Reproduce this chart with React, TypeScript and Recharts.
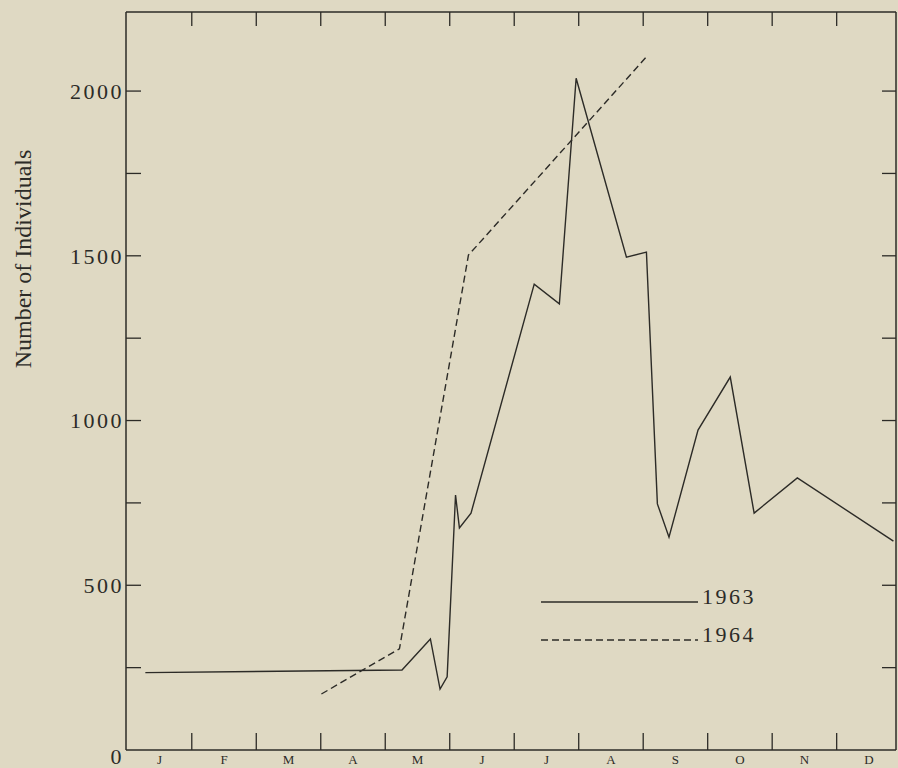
import React from 'react';
import { LineChart, Line, XAxis, YAxis, Legend } from 'recharts';

const INK = '#2c2b27';
const PAPER = '#dfd9c3';
const SERIF = '"Liberation Serif", "DejaVu Serif", serif';

const MONTHS = ['J', 'F', 'M', 'A', 'M', 'J', 'J', 'A', 'S', 'O', 'N', 'D'];
const MONTH_EDGES = [1, 2, 3, 4, 5, 6, 7, 8, 9, 10, 11];

// x is months since 1 January
const X_1963 = [0.28, 4.26, 4.7, 4.85, 4.96, 5.09, 5.15, 5.33, 6.31, 6.7, 6.96, 7.74, 8.05, 8.22, 8.4, 8.85, 9.35, 9.72, 10.39, 11.88];
const N_1963 = [235, 243, 337, 185, 222, 774, 674, 719, 1414, 1354, 2039, 1496, 1511, 747, 646, 971, 1132, 719, 826, 634];
const X_1964 = [3.01, 4.22, 5.29, 8.06];
const N_1964 = [170, 307, 1502, 2106];

const Y_LABELS = [0, 500, 1000, 1500, 2000];
const Y_TICKS = [0, 250, 500, 750, 1000, 1250, 1500, 1750, 2000];

const data1963 = X_1963.map((x, i) => ({ x, n: N_1963[i] }));
const data1964 = X_1964.map((x, i) => ({ x, n: N_1964[i] }));
const monthCentres = MONTHS.map((_, i) => i + 0.5);

const DASH = '7 4';

const BottomTick = (props: any) => {
  const { x, y, payload } = props;
  const v = payload.value;
  if (Number.isInteger(v)) {
    return <line x1={x} x2={x} y1={y} y2={y - 17} stroke={INK} strokeWidth={1.3} />;
  }
  return (
    <text x={x} y={y + 14} textAnchor="middle" fontSize={13} fill={INK} fontFamily={SERIF}>
      {MONTHS[Math.floor(v)]}
    </text>
  );
};

const TopTick = (props: any) => {
  const { x, y } = props;
  return <line x1={x} x2={x} y1={y} y2={y + 14} stroke={INK} strokeWidth={1.3} />;
};

const LeftTick = (props: any) => {
  const { x, y, payload } = props;
  const v = payload.value;
  return (
    <g>
      {v > 0 && <line x1={x} x2={x + 15} y1={y} y2={y} stroke={INK} strokeWidth={1.3} />}
      {Y_LABELS.includes(v) && (
        <text
          x={x - 2}
          y={v === 0 ? y + 6 : y}
          dy="0.35em"
          textAnchor="end"
          fontSize={22}
          letterSpacing={2.5}
          fill={INK}
          fontFamily={SERIF}
        >
          {v}
        </text>
      )}
    </g>
  );
};

const RightTick = (props: any) => {
  const { x, y } = props;
  return <line x1={x - 14} x2={x} y1={y} y2={y} stroke={INK} strokeWidth={1.3} />;
};

const YTitle = () => (
  <text
    x={31}
    y={259}
    transform="rotate(-90, 31, 259)"
    textAnchor="middle"
    fontSize={24}
    fill={INK}
    fontFamily={SERIF}
  >
    Number of Individuals
  </text>
);

const renderLegend = (props: any) => {
  const items = props.payload || [];
  return (
    <svg width={220} height={64}>
      {items.map((it: any, i: number) => {
        const dashed = it.value === '1964';
        const ly = 17 + i * 38;
        return (
          <g key={it.value}>
            <line
              x1={0}
              x2={157}
              y1={ly}
              y2={ly}
              stroke={INK}
              strokeWidth={1.4}
              strokeDasharray={dashed ? DASH : undefined}
            />
            <text x={161} y={ly + 2} fontSize={22} letterSpacing={2.5} fill={INK} fontFamily={SERIF}>
              {it.value}
            </text>
          </g>
        );
      })}
    </svg>
  );
};

export default function App() {
  return (
    <div style={{ position: 'absolute', left: 0, top: 0, width: 898, height: 768, background: PAPER }}>
      <LineChart width={898} height={768} margin={{ top: 11, right: 0, bottom: 0, left: 0 }} style={{ fontFamily: SERIF }}>
        <XAxis
          xAxisId="b"
          dataKey="x"
          type="number"
          orientation="bottom"
          domain={[-0.02, 11.92]}
          allowDataOverflow
          ticks={[...monthCentres, ...MONTH_EDGES].sort((a, b) => a - b)}
          interval={0}
          tick={<BottomTick />}
          tickLine={false}
          tickSize={0}
          tickMargin={0}
          height={18}
          axisLine={{ stroke: INK, strokeWidth: 1.5 }}
        />
        <XAxis
          xAxisId="t"
          dataKey="x"
          type="number"
          orientation="top"
          domain={[-0.02, 11.92]}
          allowDataOverflow
          ticks={MONTH_EDGES}
          interval={0}
          tick={<TopTick />}
          tickLine={false}
          tickSize={0}
          tickMargin={0}
          height={1}
          axisLine={{ stroke: INK, strokeWidth: 1.5 }}
        />
        <YAxis
          yAxisId="l"
          type="number"
          orientation="left"
          domain={[0, 2240]}
          allowDataOverflow
          ticks={Y_TICKS}
          interval={0}
          tick={<LeftTick />}
          tickLine={false}
          tickSize={0}
          tickMargin={0}
          width={126}
          axisLine={{ stroke: INK, strokeWidth: 1.5 }}
          label={<YTitle />}
        />
        <YAxis
          yAxisId="r"
          type="number"
          orientation="right"
          domain={[0, 2240]}
          allowDataOverflow
          ticks={Y_TICKS.filter((v) => v > 0)}
          interval={0}
          tick={<RightTick />}
          tickLine={false}
          tickSize={0}
          tickMargin={0}
          width={2}
          axisLine={{ stroke: INK, strokeWidth: 1.5 }}
        />
        <Legend
          layout="vertical"
          align="center"
          verticalAlign="middle"
          wrapperStyle={{ left: 541, top: 585, width: 220, height: 64 }}
          content={renderLegend}
        />
        <Line
          xAxisId="b"
          yAxisId="l"
          name="1963"
          data={data1963}
          dataKey="n"
          type="linear"
          stroke={INK}
          strokeWidth={1.4}
          dot={false}
          activeDot={false}
          isAnimationActive={false}
        />
        <Line
          xAxisId="b"
          yAxisId="l"
          name="1964"
          data={data1964}
          dataKey="n"
          type="linear"
          stroke={INK}
          strokeWidth={1.4}
          strokeDasharray={DASH}
          dot={false}
          activeDot={false}
          isAnimationActive={false}
        />
      </LineChart>
    </div>
  );
}
